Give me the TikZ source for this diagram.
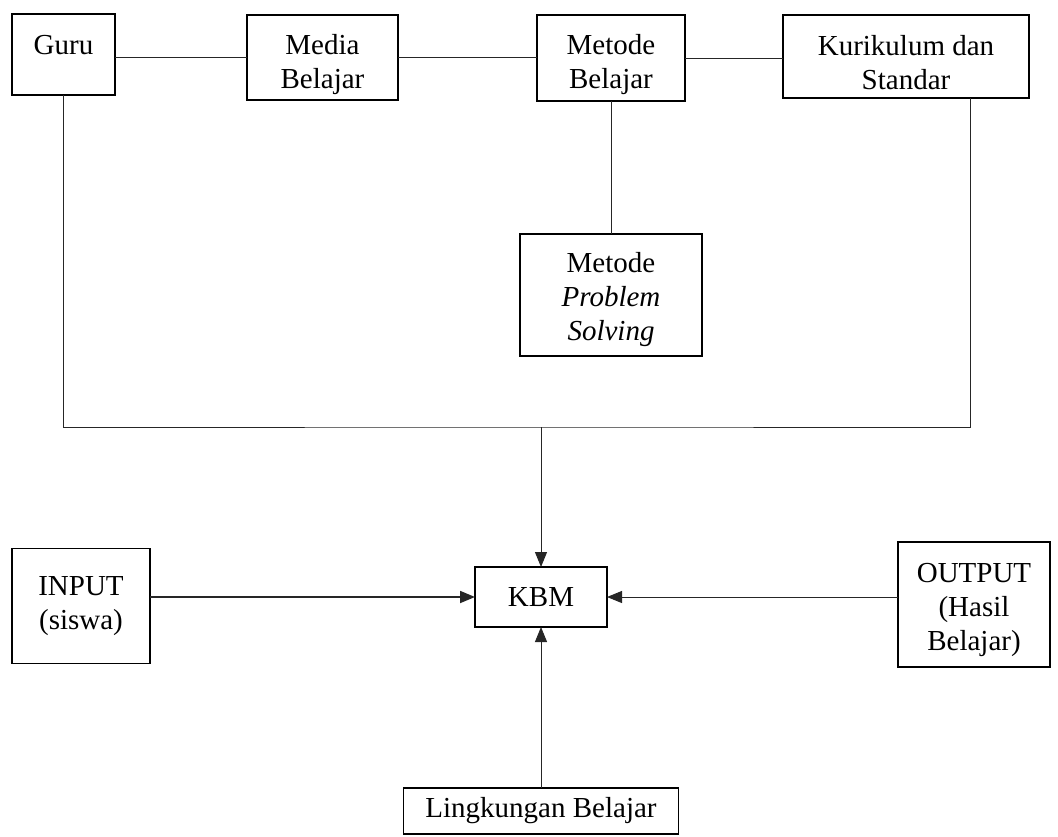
\documentclass[tikz,border=0pt]{standalone}
\usepackage{fontspec}
\setmainfont{Liberation Serif}
\usetikzlibrary{arrows.meta}

\begin{document}
\begin{tikzpicture}[x=1pt, y=-1pt, font=\fontsize{29}{34}\selectfont,
	kotak/.style={draw, line width=1.3pt, align=center, inner sep=0pt, outer sep=0pt},
	atas/.style={kotak, text height=68pt},
	garis/.style={line width=1pt, draw=black!85},
	panah/.style={garis, -{Triangle[length=15pt, width=12pt]}}]
	\useasboundingbox (0,0) rectangle (1058,836);
	
	% Baris atas
	\node[atas, line width=1.6pt, minimum width=103pt, minimum height=81pt] (guru) at (63.5, 54.5) {Guru\\~};
	\node[atas, minimum width=151pt, minimum height=85pt] (media) at (322.5, 57.5) {Media\\Belajar};
	\node[atas, minimum width=148pt, minimum height=86pt] (metode) at (611, 58) {Metode\\Belajar};
	\node[atas, text height=67pt, minimum width=246pt, minimum height=83pt] (kurikulum) at (906, 56.5) {Kurikulum dan\\Standar};
	\draw[garis] (guru.east |- media.west) -- (media.west);
	\draw[garis] (media.east) -- (media.east -| metode.west);
	\draw[garis] (metode.east) -- (metode.east -| kurikulum.west);
	
	% Metode problem solving
	\node[kotak, text height=98pt, minimum width=182pt, minimum height=122pt] (ps) at (611, 295) {Metode\\\textit{Problem}\\\textit{Solving}};
	\draw[garis] (metode.south) -- (ps.north);
	
	% KBM dan sekitarnya
	\node[kotak, minimum width=132pt, minimum height=60pt] (kbm) at (541, 597) {KBM};
	\node[kotak, minimum width=138pt, minimum height=115pt] (input) at (81, 606) {INPUT\\(siswa)};
	\node[kotak, text height=98pt, minimum width=152pt, minimum height=125pt] (output) at (974, 604.5) {OUTPUT\\(Hasil\\Belajar)};
	\node[kotak, minimum width=275pt, minimum height=46pt] (lingkungan) at (541, 811) {Lingkungan Belajar};
	
	\coordinate (bus) at (541, 427);
	\draw[garis] (guru.south) |- (bus) -| ([xshift=64pt]kurikulum.south);
	\draw[panah] (bus) -- (kbm.north);
	\draw[panah, line width=1.8pt] (input.east |- kbm.west) -- (kbm.west);
	\draw[panah] (output.west |- kbm.east) -- (kbm.east);
	\draw[panah] (lingkungan.north) -- (kbm.south);
	
\end{tikzpicture}
\end{document}
